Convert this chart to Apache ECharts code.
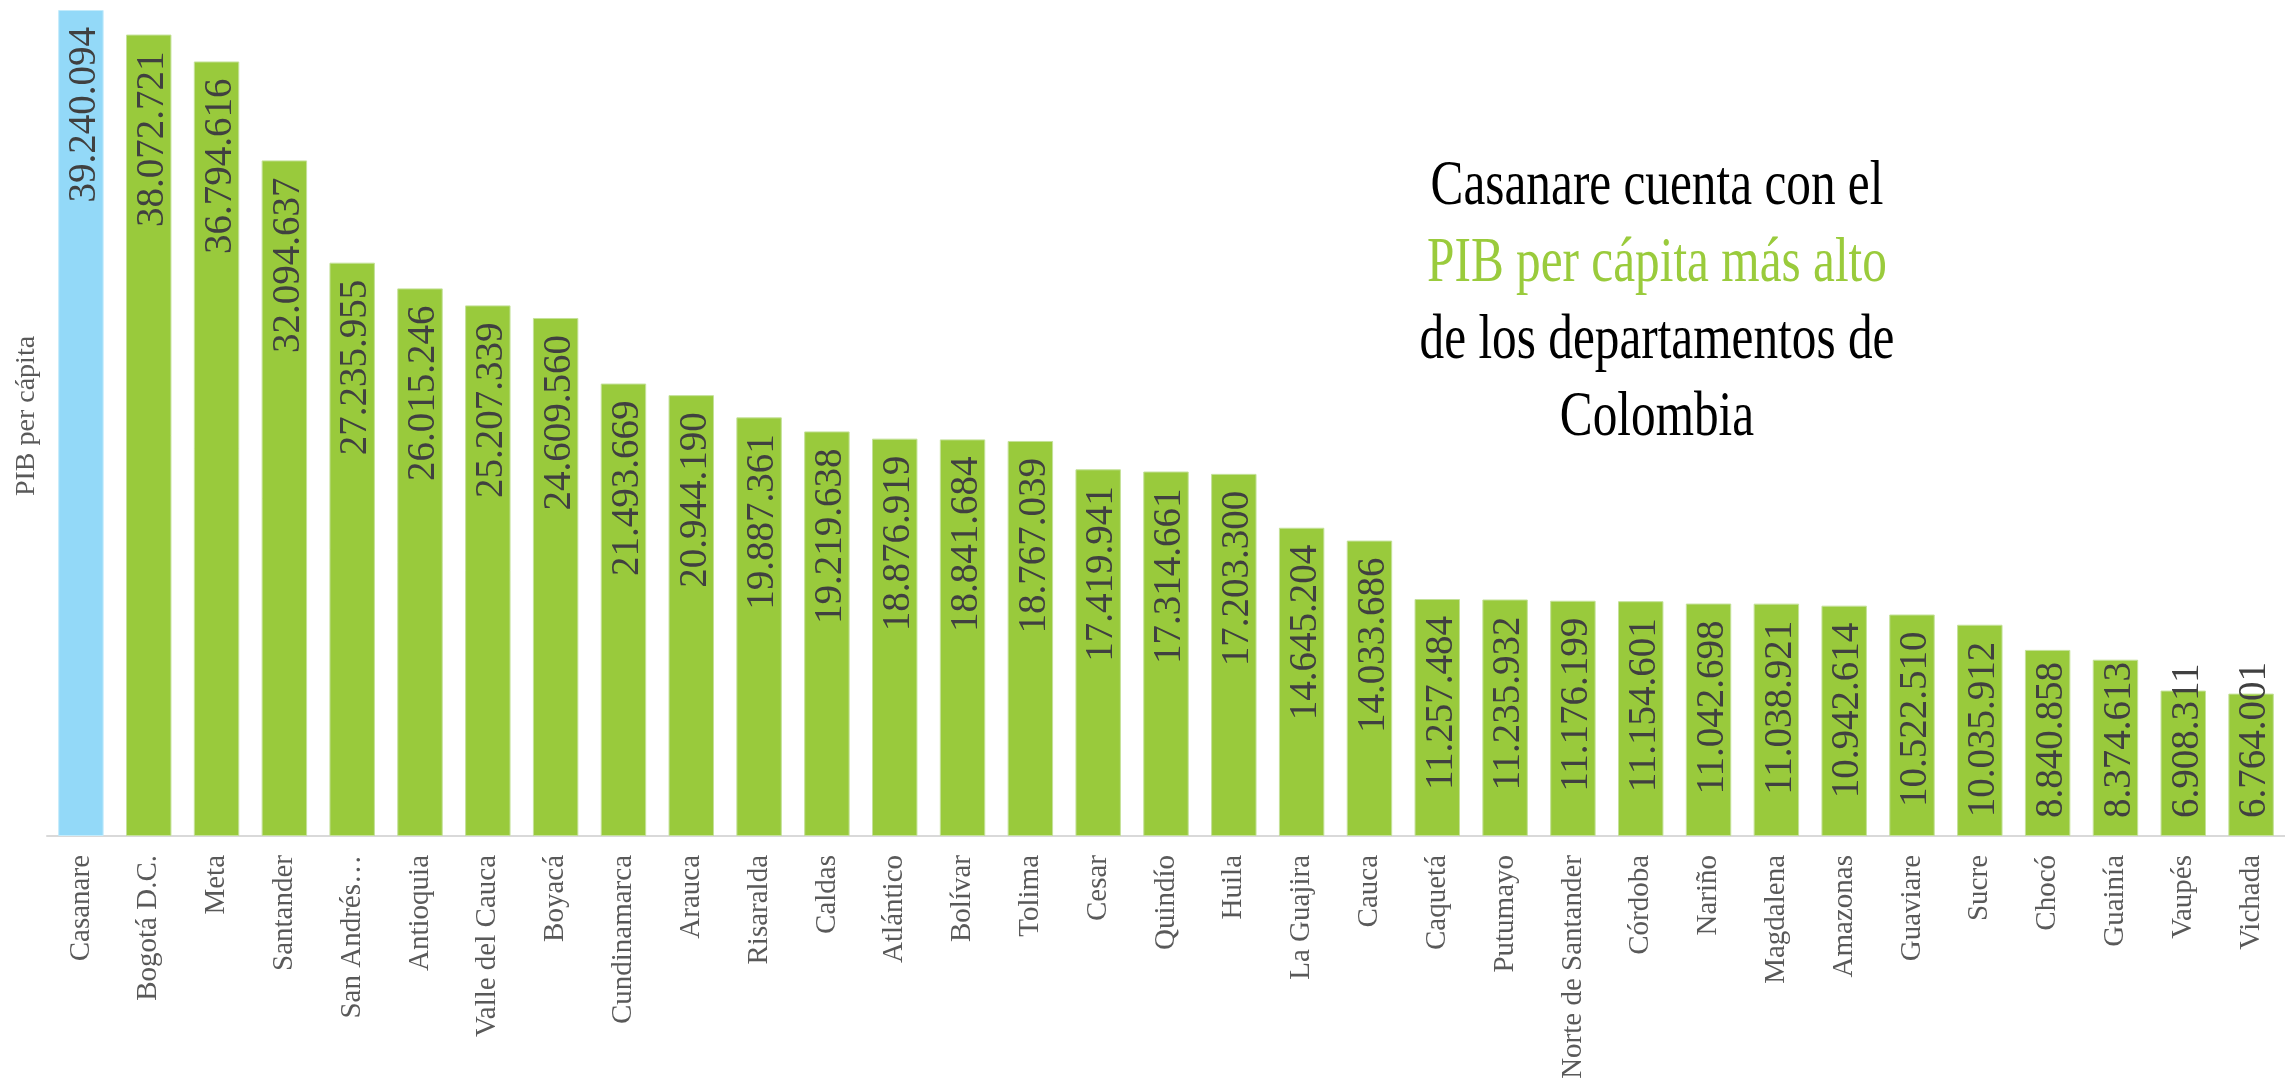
<!DOCTYPE html>
<html>
<head>
<meta charset="utf-8">
<title>PIB per cápita</title>
<script src="https://cdn.jsdelivr.net/npm/echarts@6/dist/echarts.min.js"></script>
<style>
    html, body { margin: 0; padding: 0; background: #fff; }
    #chart { width: 2285px; height: 1087px; }
</style>
</head>
<body>
<div id="chart"></div>
<script>
// departamentos, ordenados de mayor a menor
const departamentos = [
    'Casanare', 'Bogotá D.C.', 'Meta', 'Santander', 'San Andrés…', 'Antioquia',
    'Valle del Cauca', 'Boyacá', 'Cundinamarca', 'Arauca', 'Risaralda', 'Caldas',
    'Atlántico', 'Bolívar', 'Tolima', 'Cesar', 'Quindío', 'Huila', 'La Guajira',
    'Cauca', 'Caquetá', 'Putumayo', 'Norte de Santander', 'Córdoba', 'Nariño',
    'Magdalena', 'Amazonas', 'Guaviare', 'Sucre', 'Chocó', 'Guainía', 'Vaupés', 'Vichada'
]
const pibPerCapita = [
    39240094, 38072721, 36794616, 32094637, 27235955, 26015246,
    25207339, 24609560, 21493669, 20944190, 19887361, 19219638,
    18876919, 18841684, 18767039, 17419941, 17314661, 17203300, 14645204,
    14033686, 11257484, 11235932, 11176199, 11154601, 11042698,
    11038921, 10942614, 10522510, 10035912, 8840858, 8374613, 6908311, 6764001
]
const destacado = 'Casanare'
const tituloLineas = [
    'Casanare cuenta con el',
    'PIB per cápita más alto',
    'de los departamentos de',
    'Colombia'
]

const serif = '"Liberation Serif", "DejaVu Serif", serif'
const verde = '#99ca3c'
const azul = '#93d9f8'
// por debajo de este valor la etiqueta no cabe arriba y se ancla abajo
const limiteEtiqueta = 10000000

function formatoPuntos (v) {
    return String(v).replace(/\B(?=(\d{3})+(?!\d))/g, '.')
}

const chart = echarts.init(document.getElementById('chart'))

const barras = pibPerCapita.map((v, i) => {
    const item = { value: v }
    if (departamentos[i] === destacado) {
        item.itemStyle = { color: azul, borderColor: '#c3ebfb' }
    }
    if (v < limiteEtiqueta) {
        item.label = { position: 'insideBottom', align: 'left', distance: 18 }
    }
    return item
})

const titulo = tituloLineas.map((t, i) => ({
    type: 'text',
    x: 1657,
    y: 155 + i * 77,
    scaleX: 0.77,
    style: {
        text: t,
        fill: i === 1 ? '#9acb3c' : '#000',
        font: '64px ' + serif,
        align: 'center',
        verticalAlign: 'top'
    }
}))

const option = {
    animation: false,
    backgroundColor: '#fff',
    grid: {
        left: 47,
        right: -13,
        top: 10,
        bottom: 251
    },
    xAxis: {
        type: 'category',
        data: departamentos,
        axisLine: { lineStyle: { color: '#d9d9d9', width: 2 } },
        axisTick: { length: 9, lineStyle: { color: '#d9d9d9', width: 2 } },
        axisLabel: {
            interval: 0,
            rotate: 90,
            margin: 19,
            color: '#595959',
            fontFamily: serif,
            fontSize: 29
        }
    },
    yAxis: {
        type: 'value',
        min: 0,
        max: Math.max(...pibPerCapita),
        name: 'PIB per cápita',
        nameLocation: 'middle',
        nameGap: 6,
        nameTextStyle: { color: '#595959', fontFamily: serif, fontSize: 28, padding: [0, 0, 0, 14] },
        axisLine: { show: false },
        axisTick: { show: false },
        axisLabel: { show: false },
        splitLine: { show: false }
    },
    series: [{
        type: 'bar',
        data: barras,
        barCategoryGap: '33%',
        itemStyle: { color: verde, borderColor: '#c4e199', borderWidth: 1 },
        label: {
            show: true,
            position: 'insideTop',
            rotate: 90,
            align: 'right',
            verticalAlign: 'middle',
            distance: 17,
            offset: [0, 4],
            color: '#404040',
            fontFamily: serif,
            fontSize: 39,
            formatter: p => formatoPuntos(p.value)
        }
    }],
    graphic: titulo
}

chart.setOption(option)
</script>
</body>
</html>
